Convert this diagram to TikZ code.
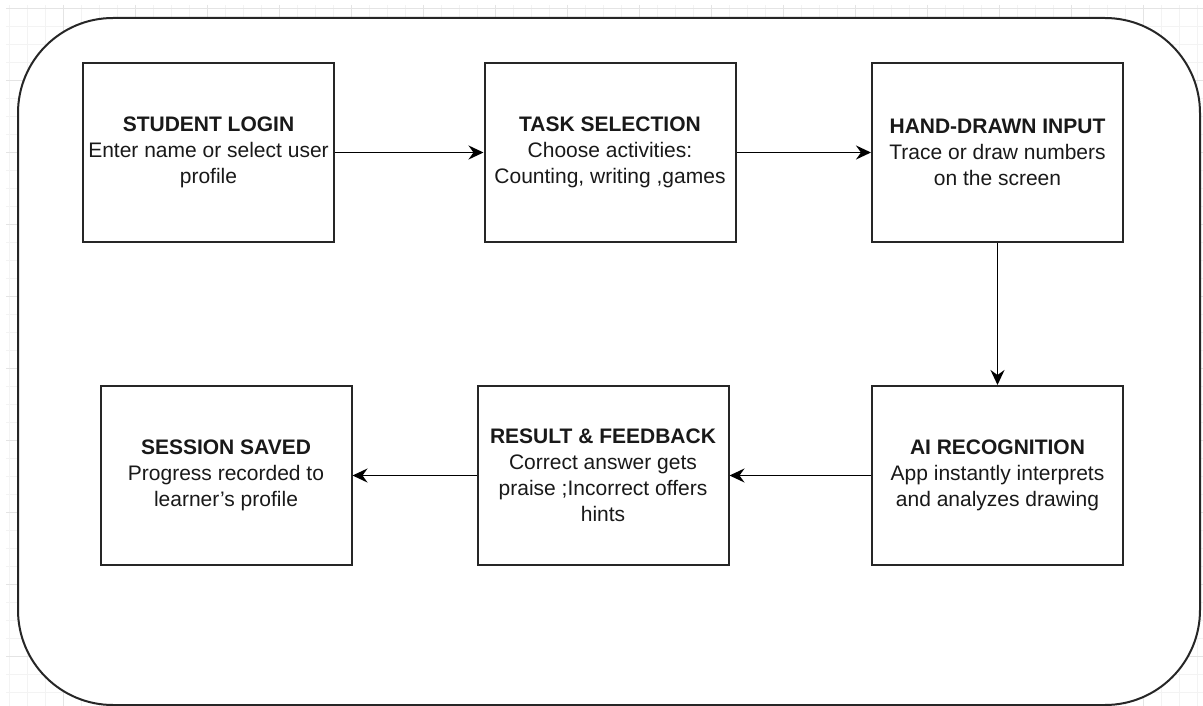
\documentclass[tikz,border=0pt]{standalone}
\usepackage{fontspec}
\setmainfont{Liberation Sans}
\usetikzlibrary{arrows.meta}
\definecolor{gridminor}{HTML}{F3F3F3}
\definecolor{gridmajor}{HTML}{E4E4E4}
\begin{document}
\begin{tikzpicture}[x=1pt, y=-1pt,
      stepbox/.style={draw=black!85, line width=2pt, minimum width=251pt, minimum height=179pt,
        inner sep=0pt, align=center, text=black!90, font=\fontsize{21}{26}\selectfont},
      flow/.style={line width=1.8pt, -{Stealth[length=15pt, width=14pt, inset=5pt]}}
    ]
    \useasboundingbox (0,0) rectangle (1203,706);

    % faint page grid
    \foreach \gx in {9,27,...,1203} \draw[gridminor, line width=0.8pt] (\gx,5) -- (\gx,706);
    \foreach \gy in {8,26,...,706} \draw[gridminor, line width=0.8pt] (6,\gy) -- (1203,\gy);
    \foreach \gx in {63,135,...,1203} \draw[gridmajor, line width=0.8pt] (\gx,5) -- (\gx,706);
    \foreach \gy in {8,80,...,706} \draw[gridmajor, line width=0.8pt] (6,\gy) -- (1203,\gy);

    % outer frame
    \draw[black!85, line width=2pt, fill=white, rounded corners=95pt] (18,18) rectangle (1200,705);

    % top row
    \node[stepbox] (login) at (208.5,152.5) {\textbf{STUDENT LOGIN}\\Enter name or select user\\profile};
    \node[stepbox] (task) at (610,152.5) {\textbf{TASK SELECTION}\\Choose activities:\\Counting, writing ,games};
    \node[stepbox] (hand) at (997.5,152.5) {\textbf{HAND-DRAWN INPUT}\\Trace or draw numbers\\on the screen};

    % bottom row
    \node[stepbox] (ai) at (997.5,475.5) {\textbf{AI RECOGNITION}\\App instantly interprets\\and analyzes drawing};
    \node[stepbox] (result) at (603,475.5) {\textbf{RESULT \& FEEDBACK}\\Correct answer gets\\praise ;Incorrect offers\\hints};
    \node[stepbox] (saved) at (226,475.5) {\textbf{SESSION SAVED}\\Progress recorded to\\learner's profile};

    \draw[flow] (login) -- (task);
    \draw[flow] (task) -- (hand);
    \draw[flow] (hand) -- (ai);
    \draw[flow] (ai) -- (result);
    \draw[flow] (result) -- (saved);

\end{tikzpicture}
\end{document}
